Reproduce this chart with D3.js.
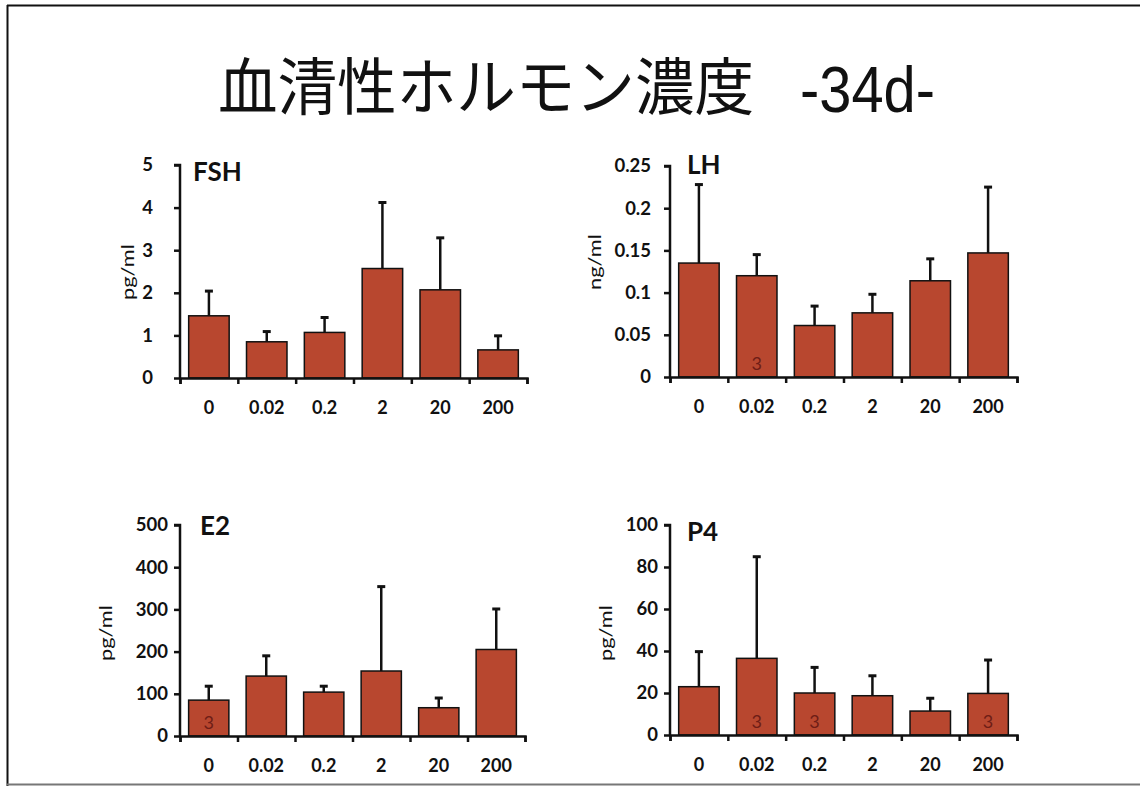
<!DOCTYPE html>
<html>
<head>
<meta charset="utf-8">
<script src="https://cdn.jsdelivr.net/npm/d3@7"></script>
<style>
  html, body { margin: 0; padding: 0; background: #fff; }
  svg { display: block; }
</style>
</head>
<body>
<div id="chart"></div>
<script>
// doses (x categories)
const categories = ["0", "0.02", "0.2", "2", "20", "200"];

// FSH (pg/ml)
const fshMean = [1.46, 0.85, 1.07, 2.57, 2.07, 0.66];
const fshSd   = [0.58, 0.24, 0.35, 1.55, 1.22, 0.33];
const fshTicks = [0, 1, 2, 3, 4, 5];

// LH (ng/ml)
const lhMean = [0.135, 0.12, 0.061, 0.076, 0.114, 0.147];
const lhSd   = [0.093, 0.025, 0.023, 0.022, 0.026, 0.078];
const lhTicks = [0, 0.05, 0.1, 0.15, 0.2, 0.25];

// E2 (pg/ml)
const e2Mean = [85, 142, 104, 154, 67, 205];
const e2Sd   = [33, 48, 14, 200, 23, 96];
const e2Ticks = [0, 100, 200, 300, 400, 500];

// P4 (pg/ml)
const p4Mean = [23, 36.5, 20, 18.7, 11.4, 19.8];
const p4Sd   = [16.7, 48.4, 12.2, 9.5, 6.1, 15.9];
const p4Ticks = [0, 20, 40, 60, 80, 100];

// bars labelled "n = 3"
const lhN3 = ["0.02"];
const e2N3 = ["0"];
const p4N3 = ["0.02", "0.2", "200"];

const W = 1140, H = 786;
const barColor = "#b8472f";

const svg = d3.select("#chart").append("svg")
    .attr("width", W)
    .attr("height", H);

// slide frame
svg.append("line").attr("x1", 7).attr("x2", W).attr("y1", 5.5).attr("y2", 5.5)
    .attr("stroke", "#111").attr("stroke-width", 2);
svg.append("line").attr("x1", 7.5).attr("x2", 7.5).attr("y1", 5).attr("y2", H)
    .attr("stroke", "#111").attr("stroke-width", 2);
svg.append("line").attr("x1", 7).attr("x2", W).attr("y1", 784.5).attr("y2", 784.5)
    .attr("stroke", "#777").attr("stroke-width", 2);

// title
svg.append("text")
    .attr("x", 218).attr("y", 110)
    .attr("textLength", 536)
    .attr("lengthAdjust", "spacingAndGlyphs")
    .style("font-family", "'Noto Sans CJK JP', sans-serif")
    .style("font-size", "62px")
    .style("font-weight", 400)
    .attr("fill", "#111")
    .text("血清性ホルモン濃度");
svg.append("text")
    .attr("x", 800).attr("y", 112)
    .attr("textLength", 135)
    .attr("lengthAdjust", "spacingAndGlyphs")
    .style("font-family", "'Liberation Sans Narrow', 'Liberation Sans', sans-serif")
    .style("font-size", "64px")
    .attr("fill", "#111")
    .text("-34d-");

const panels = [
    { name: "FSH", unit: "pg/ml", mean: fshMean, sd: fshSd, ticks: fshTicks, n3: [],
      x0: 180, x1: 527, yTop: 165, yBot: 378, pad: 21, nameX: 193, nameY: 181, unitX: 128, unitY: 272 },
    { name: "LH", unit: "ng/ml", mean: lhMean, sd: lhSd, ticks: lhTicks, n3: lhN3,
      x0: 670, x1: 1017, yTop: 166, yBot: 377, pad: 13, nameX: 687, nameY: 174, unitX: 595, unitY: 262 },
    { name: "E2", unit: "pg/ml", mean: e2Mean, sd: e2Sd, ticks: e2Ticks, n3: e2N3,
      x0: 180, x1: 525, yTop: 525, yBot: 736, pad: 6, nameX: 200, nameY: 535, unitX: 106, unitY: 633 },
    { name: "P4", unit: "pg/ml", mean: p4Mean, sd: p4Sd, ticks: p4Ticks, n3: p4N3,
      x0: 670, x1: 1017, yTop: 525, yBot: 735, pad: 6, nameX: 687, nameY: 541, unitX: 606, unitY: 633 }
];

panels.forEach(p => {
    const rows = categories.map((c, i) => ({ cat: c, mean: p.mean[i], sd: p.sd[i] }));

    const x = d3.scaleBand()
        .domain(categories)
        .range([p.x0, p.x1])
        .paddingInner(0.3)
        .paddingOuter(0.15);

    const xEdge = d3.scaleLinear()
        .domain([0, categories.length])
        .range([p.x0, p.x1]);

    const y = d3.scaleLinear()
        .domain([0, d3.max(p.ticks)])
        .range([p.yBot, p.yTop]);

    const g = svg.append("g");

    // bars
    g.selectAll("rect.bar")
        .data(rows)
        .enter()
        .append("rect")
        .attr("class", "bar")
        .attr("x", d => x(d.cat))
        .attr("y", d => y(d.mean))
        .attr("width", x.bandwidth())
        .attr("height", d => y(0) - y(d.mean))
        .attr("fill", barColor)
        .attr("stroke", "#111")
        .attr("stroke-width", 1.5);

    // error bars (upper only)
    const err = g.selectAll("g.err")
        .data(rows)
        .enter()
        .append("g")
        .attr("class", "err");
    err.append("line")
        .attr("x1", d => x(d.cat) + x.bandwidth() / 2)
        .attr("x2", d => x(d.cat) + x.bandwidth() / 2)
        .attr("y1", d => y(d.mean))
        .attr("y2", d => y(d.mean + d.sd))
        .attr("stroke", "#111")
        .attr("stroke-width", 2.5);
    err.append("line")
        .attr("x1", d => x(d.cat) + x.bandwidth() / 2 - 4)
        .attr("x2", d => x(d.cat) + x.bandwidth() / 2 + 4)
        .attr("y1", d => y(d.mean + d.sd))
        .attr("y2", d => y(d.mean + d.sd))
        .attr("stroke", "#111")
        .attr("stroke-width", 3);

    // n = 3 notes
    g.selectAll("text.n3")
        .data(rows.filter(d => p.n3.includes(d.cat)))
        .enter()
        .append("text")
        .attr("class", "n3")
        .attr("x", d => x(d.cat) + x.bandwidth() / 2)
        .attr("y", y(0) - 7)
        .attr("text-anchor", "middle")
        .style("font-family", "Lato, sans-serif")
        .style("font-size", "18px")
        .attr("fill", "#6e1d16")
        .text("3");

    // y axis
    const yAxis = g.append("g")
        .attr("transform", `translate(${p.x0},0)`)
        .call(d3.axisLeft(y)
            .tickValues(p.ticks)
            .tickSize(6)
            .tickPadding(p.pad)
            .tickFormat(d3.format("~g")));

    // x axis: boundary ticks
    const xLine = g.append("g")
        .attr("transform", `translate(0,${p.yBot})`)
        .call(d3.axisBottom(xEdge)
            .tickValues(d3.range(categories.length + 1))
            .tickSize(6)
            .tickFormat(""));

    // x axis: category labels
    const xLab = g.append("g")
        .attr("transform", `translate(0,${p.yBot})`)
        .call(d3.axisBottom(x).tickSize(0).tickPadding(23));
    xLab.select(".domain").remove();

    yAxis.selectAll(".tick text")
        .style("font-family", "Lato, 'Open Sans', sans-serif")
        .style("font-weight", 700)
        .style("font-size", "18.5px")
        .attr("fill", "#111");
    xLab.selectAll(".tick text")
        .style("font-family", "Lato, 'Open Sans', sans-serif")
        .style("font-weight", 700)
        .style("font-size", "18px")
        .attr("fill", "#111");

    [yAxis, xLine].forEach(a => {
        a.select(".domain").attr("stroke", "#111").attr("stroke-width", 2.5);
        a.selectAll(".tick line").attr("stroke", "#111").attr("stroke-width", 2.5);
    });
    yAxis.select(".domain").attr("d", `M-6,${p.yTop}H0V${p.yBot}`);

    // panel name
    g.append("text")
        .attr("x", p.nameX).attr("y", p.nameY)
        .style("font-family", "Lato, sans-serif")
        .style("font-weight", 700)
        .style("font-size", "26px")
        .attr("fill", "#111")
        .text(p.name);

    // unit label
    g.append("text")
        .attr("transform", `translate(${p.unitX},${p.unitY}) rotate(-90)`)
        .attr("text-anchor", "middle")
        .attr("dy", "0.35em")
        .attr("textLength", 56)
        .attr("lengthAdjust", "spacingAndGlyphs")
        .style("font-family", "Lato, sans-serif")
        .style("font-size", "17px")
        .attr("fill", "#111")
        .text(p.unit);
});
</script>
</body>
</html>
